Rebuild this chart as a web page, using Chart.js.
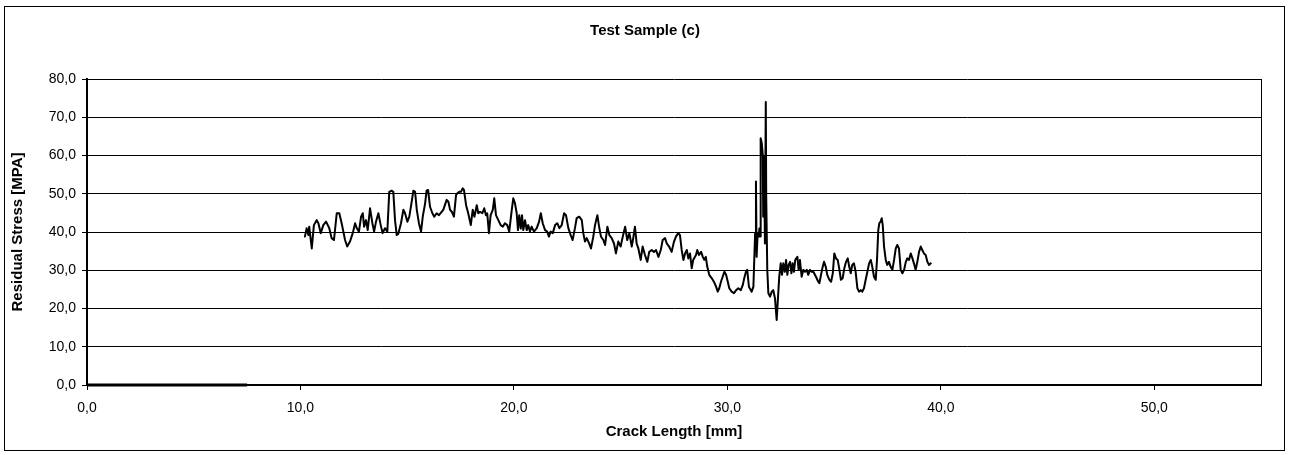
<!DOCTYPE html>
<html>
<head>
<meta charset="utf-8">
<script src="https://cdn.jsdelivr.net/npm/chart.js@4/dist/chart.umd.min.js"></script>
<style>
  html, body { margin: 0; background: #fff; }
  #c { display: block; }
</style>
</head>
<body>
<canvas id="c" width="1289" height="455"></canvas>
<script>
const crackLength = [
  10.21,10.29,10.37,10.41,10.53,10.63,10.76,10.84,10.95,11.07,11.20,11.35,11.46,11.57,11.70,11.82,11.93,12.01,12.09,12.19,
  12.32,12.45,12.56,12.64,12.74,12.84,12.92,12.98,13.07,13.15,13.26,13.37,13.45,13.54,13.65,13.76,13.85,13.96,14.07,14.16,
  14.27,14.35,14.43,14.51,14.58,14.71,14.82,14.90,15.01,15.10,15.21,15.29,15.37,15.45,15.55,15.65,15.73,15.84,15.91,15.98,
  16.07,16.18,16.27,16.38,16.49,
  16.69,16.85,16.93,17.01,17.09,17.19,17.29,17.35,17.44,17.52,17.60,17.66,17.76,17.86,17.98,18.07,18.15,18.26,18.33,18.41,
  18.52,18.61,18.69,18.75,18.83,18.91,19.01,19.08,19.16,19.27,19.38,19.48,19.58,19.69,19.78,19.90,19.97,20.05,20.13,20.19,
  20.25,20.32,20.38,20.44,20.52,20.60,20.67,20.75,20.83,20.94,21.07,21.18,21.26,21.35,21.46,21.56,21.64,21.72,21.82,21.93,
  22.03,22.13,22.24,22.35,22.44,22.55,22.66,22.75,22.86,22.94,23.06,23.18,23.25,23.33,23.41,23.52,23.61,23.72,23.80,
  23.91,23.99,24.08,24.19,24.27,24.38,24.47,24.58,24.69,24.78,24.89,25.00,25.10,25.21,25.31,25.41,25.52,25.59,25.67,25.75,
  25.83,25.94,26.03,26.14,26.25,26.34,26.46,26.56,26.66,26.77,26.88,26.97,27.08,27.16,27.27,27.39,27.50,27.59,27.70,27.78,
  27.86,27.94,28.02,28.10,28.17,28.25,28.33,28.40,28.53,28.59,28.67,
  28.77,28.85,28.92,28.99,29.06,29.15,29.27,29.37,29.47,29.55,29.62,29.70,29.78,29.86,29.94,30.02,30.09,30.20,30.31,30.41,
  30.51,30.63,30.72,30.79,30.87,30.93,31.01,31.14,31.22,
  31.30,31.34,31.37,31.42,31.47,31.50,31.53,31.56,31.61,31.66,31.68,31.72,31.76,31.80,31.82,31.87,31.92,32.00,32.08,32.15,
  32.23,32.31,32.37,32.43,32.50,32.56,32.62,32.69,32.75,32.81,32.87,32.94,33.00,33.06,33.12,33.18,33.28,33.34,33.40,33.48,
  33.56,33.64,33.72,33.79,33.87,33.95,34.03,34.15,34.26,
  34.31,34.37,34.45,34.53,34.61,34.68,34.78,34.86,34.94,35.01,35.09,35.17,35.25,35.32,35.40,35.48,35.56,35.64,35.71,35.78,
  35.85,35.93,36.01,36.09,36.17,36.25,36.32,36.40,36.48,36.56,36.64,36.72,36.79,36.87,36.95,37.01,37.07,37.12,37.18,37.23,
  37.28,37.34,37.42,37.49,37.57,37.65,37.73,37.81,37.89,37.96,38.04,38.12,38.20,38.28,38.36,38.43,38.51,38.59,38.67,38.74,
  38.82,38.90,38.98,39.06,39.13,39.21,39.29,39.37,39.45,39.53
];

// residual stress [MPa]
const residualStress = [
  38.8,41.0,39.2,41.4,35.7,41.8,43.1,42.3,39.7,41.8,42.7,41.0,38.4,37.9,44.9,44.9,42.3,40.1,37.9,36.2,
  37.5,39.7,42.3,41.0,40.1,44.0,44.9,41.4,43.1,40.5,46.2,42.3,40.1,42.7,44.9,41.8,39.7,41.0,40.1,50.5,
  50.8,50.5,43.1,39.2,39.5,42.3,45.8,44.9,42.7,44.0,47.9,50.8,50.5,45.8,42.3,40.1,44.0,47.5,50.8,51.0,
  46.6,44.9,44.0,44.9,44.4,
  45.8,48.4,47.9,45.8,45.3,44.0,49.7,50.1,50.5,50.5,51.4,51.0,47.0,44.9,41.8,45.8,44.0,47.0,44.9,45.3,
  44.9,46.2,44.4,44.9,39.7,44.4,45.8,48.8,44.4,43.1,41.8,41.4,42.3,41.8,40.1,45.8,48.8,47.5,44.9,40.5,
  44.4,40.9,44.4,40.5,43.1,40.5,41.8,40.1,41.4,40.1,41.0,42.7,44.9,42.3,40.5,40.1,38.8,40.1,39.7,41.8,
  42.3,41.0,41.8,44.9,44.4,41.0,39.2,37.9,41.0,43.6,44.0,43.1,39.7,37.5,38.4,37.1,35.7,38.8,41.8,
  44.4,41.4,38.8,37.9,36.6,41.4,39.2,38.4,37.0,34.4,37.5,36.2,38.8,41.4,37.9,39.7,36.2,38.4,41.4,37.0,
  35.7,32.7,36.2,34.0,32.2,34.8,35.3,34.8,35.3,33.5,35.3,37.9,38.4,37.0,36.2,34.8,37.5,38.8,39.7,39.2,
  35.3,32.7,34.4,35.3,33.1,34.4,30.5,32.7,34.0,35.3,34.0,
  34.8,33.5,32.7,33.5,30.9,28.8,27.9,27.0,25.7,24.4,25.3,27.0,28.3,29.6,28.8,27.0,25.3,24.4,24.0,24.8,
  25.3,24.8,26.1,27.9,29.6,30.1,25.7,24.4,25.7,
  39.7,53.2,33.5,39.7,38.8,40.9,38.8,64.5,63.3,60.1,44.0,59.7,37.0,74.0,49.2,30.1,24.0,23.1,24.4,24.8,
  22.7,17.0,22.7,28.3,31.8,28.8,31.8,29.6,32.7,28.8,31.4,32.2,29.2,31.8,29.6,32.7,33.5,30.1,32.7,28.3,
  30.1,29.6,30.1,28.8,30.1,29.6,29.6,28.3,27.0,
  26.6,28.3,30.5,32.2,30.9,28.8,27.5,27.0,29.2,34.4,33.1,32.7,30.1,27.5,27.9,30.5,32.2,33.1,30.9,29.2,
  31.4,31.8,29.6,25.3,24.4,24.8,24.4,25.3,27.5,29.6,31.8,32.7,30.9,28.3,27.5,32.7,40.5,42.3,42.7,43.6,
  41.8,36.2,32.7,31.4,32.2,30.9,30.1,32.7,35.7,36.6,35.7,30.1,29.2,30.1,32.2,33.1,32.7,34.4,33.1,31.8,
  30.1,32.2,34.8,36.2,35.3,34.4,34.0,32.2,31.4,31.8
];

// flat segment lying on the axis at the start
const zeroLength = [0, 7.5];
const zeroStress = [0, 0];

const yTicks = [0, 10, 20, 30, 40, 50, 60, 70, 80];
const xTicks = [0, 10, 20, 30, 40, 50];

const FONT = '"Liberation Sans", Arial, sans-serif';
Chart.defaults.font.family = FONT;
Chart.defaults.color = '#000';

const fmt = (v) => Number(v).toFixed(1).replace('.', ',');

const frame = {
  id: 'frame',
  beforeDraw(chart) {
    const ctx = chart.ctx;
    ctx.save();
    ctx.fillStyle = '#fff';
    ctx.fillRect(0, 0, chart.width, chart.height);
    ctx.restore();
  },
  afterDraw(chart) {
    const { ctx, chartArea: a } = chart;
    ctx.save();
    ctx.strokeStyle = '#000';
    ctx.lineWidth = 1;
    ctx.strokeRect(4.5, 6.5, 1280, 444);
    // right edge of the plot area
    ctx.beginPath();
    ctx.moveTo(Math.round(a.right) + 0.5, a.top);
    ctx.lineTo(Math.round(a.right) + 0.5, a.bottom);
    ctx.stroke();
    ctx.fillStyle = '#000';
    ctx.font = 'bold 15px ' + FONT;
    ctx.textAlign = 'center';
    ctx.textBaseline = 'middle';
    ctx.fillText('Test Sample (c)', 645, 31);
    ctx.restore();
  }
};

new Chart(document.getElementById('c'), {
  type: 'scatter',
  data: {
    datasets: [
      {
        data: crackLength.map((x, i) => ({ x, y: residualStress[i] })),
        showLine: true,
        borderColor: '#000',
        borderWidth: 2,
        borderJoinStyle: 'round',
        borderCapStyle: 'round',
        pointRadius: 0,
        tension: 0
      },
      {
        data: zeroLength.map((x, i) => ({ x, y: zeroStress[i] })),
        showLine: true,
        borderColor: '#000',
        borderWidth: 3,
        pointRadius: 0,
        clip: false
      }
    ]
  },
  options: {
    responsive: false,
    animation: false,
    layout: { padding: { left: 9, right: 28, top: 79, bottom: 14 } },
    plugins: {
      legend: { display: false },
      tooltip: { enabled: false },
      title: { display: false }
    },
    scales: {
      x: {
        type: 'linear',
        min: 0,
        max: 55,
        afterFit(s) { s.height = 56; },
        afterBuildTicks(s) { s.ticks = xTicks.map(v => ({ value: v })); },
        ticks: { callback: fmt, font: { size: 14 }, padding: 10, maxRotation: 0 },
        grid: { drawOnChartArea: false, drawTicks: true, tickLength: 5, color: '#000', lineWidth: 1 },
        border: { display: true, color: '#000', width: 2 },
        title: {
          display: true,
          text: 'Crack Length [mm]',
          font: { size: 15, weight: 'bold' },
          padding: { top: 0, bottom: 0 }
        }
      },
      y: {
        type: 'linear',
        min: 0,
        max: 80,
        afterFit(s) { s.width = 78; },
        afterBuildTicks(s) { s.ticks = yTicks.map(v => ({ value: v })); },
        ticks: { callback: fmt, font: { size: 14 }, padding: 6 },
        grid: { color: '#000', lineWidth: 1, drawTicks: true, tickLength: 5 },
        border: { display: true, color: '#000', width: 2 },
        title: {
          display: true,
          text: 'Residual Stress [MPA]',
          font: { size: 15, weight: 'bold' },
          padding: { top: 0, bottom: 0 }
        }
      }
    }
  },
  plugins: [frame]
});
</script>
</body>
</html>
